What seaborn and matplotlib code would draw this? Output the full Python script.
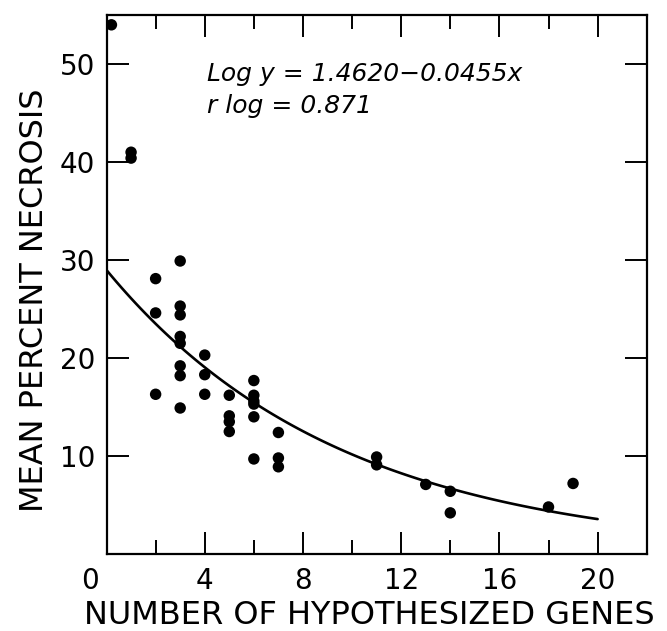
import numpy as np
import pandas as pd
import matplotlib
matplotlib.use("Agg")
import matplotlib.pyplot as plt
import seaborn as sns

# genes vs. mean percent necrosis
genes = [0.2, 1, 1,
         2, 2, 2,
         3, 3, 3, 3, 3, 3, 3, 3,
         4, 4, 4,
         5, 5, 5, 5,
         6, 6, 6, 6, 6, 6,
         7, 7, 7,
         11, 11, 13, 14, 14, 18, 19]
necrosis = [54.0, 41.0, 40.4,
            28.1, 24.6, 16.3,
            29.9, 25.3, 24.4, 22.2, 21.5, 19.2, 18.2, 14.9,
            20.3, 18.3, 16.3,
            16.2, 14.1, 13.5, 12.5,
            17.7, 16.2, 15.6, 15.3, 14.0, 9.7,
            12.4, 9.8, 8.9,
            9.9, 9.1, 7.1, 6.4, 4.2, 4.8, 7.2]

x_major = [4, 8, 12, 16, 20]
x_minor = [2, 6, 10, 14, 18]
y_major = [10, 20, 30, 40, 50]

# regression given on the chart: log y = a + b x
intercept = 1.4620
slope = -0.0455
fit_x = np.linspace(0, 20, 101)
fit = pd.DataFrame({"x": fit_x, "y": 10 ** (intercept + slope * fit_x)})
pts = pd.DataFrame({"genes": genes, "necrosis": necrosis})

sns.set_style("ticks")
plt.rcParams['font.family'] = ['DejaVu Sans']
plt.rcParams['text.color'] = 'black'
plt.rcParams['axes.labelcolor'] = 'black'

fig = plt.figure(figsize=(6.67, 6.31), dpi=100)
ax = fig.add_axes([0.1597, 0.122, 0.8099, 0.8542])

sns.lineplot(data=fit, x="x", y="y", color="black", linewidth=1.9, ax=ax)
sns.scatterplot(data=pts, x="genes", y="necrosis", color="black", s=68,
                edgecolor="none", ax=ax, zorder=3)

ax.set_xlim(0, 22)
ax.set_ylim(0, 55)

ax.set_xticks(x_major)
ax.set_xticklabels([str(v) for v in x_major])
ax.set_xticks(x_minor, minor=True)
ax.set_yticks(y_major)
ax.set_yticklabels([str(v) for v in y_major])

ax.tick_params(axis="both", which="major", direction="in", length=16, width=1.4,
               labelsize=20, colors="black", top=True, right=True)
ax.tick_params(axis="x", which="major", pad=9)
ax.tick_params(axis="y", which="major", pad=8)
ax.tick_params(axis="x", which="minor", direction="in", length=10, width=1.4,
               top=True, bottom=True, colors="black")
for s in ax.spines.values():
    s.set_linewidth(1.6)
    s.set_color("black")

# the shared "0" sits at the lower-left corner
ax.text(-0.68, -1.3, "0", fontsize=20, ha="center", va="top", clip_on=False)

ax.set_xlabel("NUMBER OF HYPOTHESIZED GENES", fontsize=23, va="baseline")
ax.xaxis.set_label_coords(0.487, -0.130)
ax.set_ylabel("MEAN PERCENT NECROSIS", fontsize=23)
ax.yaxis.set_label_coords(-0.105, 0.47)

ax.text(4.1, 48.3, "Log y = 1.4620\u22120.0455x", fontsize=18,
        style="italic", va="baseline")
ax.text(4.1, 45.0, "r log = 0.871", fontsize=18, style="italic", va="baseline")

fig.savefig("out.png", dpi=100)
